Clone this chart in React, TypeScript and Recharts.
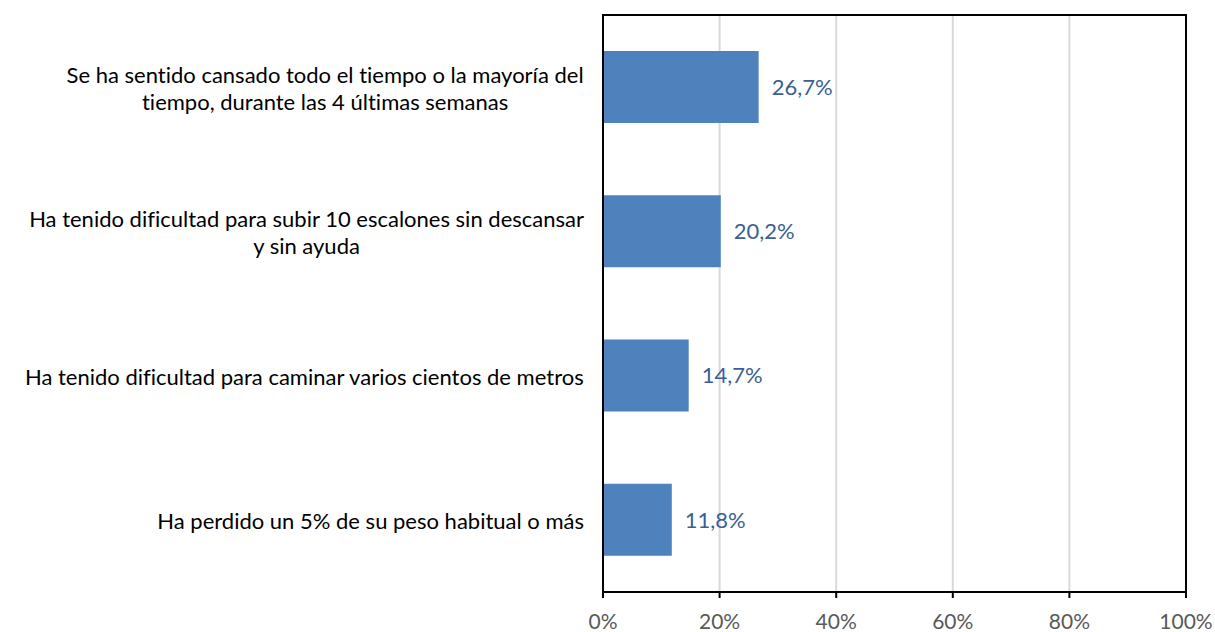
import React from "react";
import {
  Bar,
  BarChart,
  CartesianGrid,
  LabelList,
  ReferenceArea,
  XAxis,
  YAxis,
} from "recharts";

const categories = [
  "Se ha sentido cansado todo el tiempo o la mayoría del\ntiempo, durante las 4 últimas semanas",
  "Ha tenido dificultad para subir 10 escalones sin descansar\ny sin ayuda",
  "Ha tenido dificultad para caminar varios cientos de metros",
  "Ha perdido un 5% de su peso habitual o más",
];
const values = [0.267, 0.202, 0.147, 0.118];
const xTicks = [0, 0.2, 0.4, 0.6, 0.8, 1];

const FONT = "Lato, 'Liberation Sans', sans-serif";
const FONT_SIZE = 22;

const data = categories.map((name, i) => ({ name, value: values[i] }));

let canvasCtx: CanvasRenderingContext2D | null = null;
function measure(text: string) {
  if (!canvasCtx) canvasCtx = document.createElement("canvas").getContext("2d");
  if (!canvasCtx) return text.length * 10;
  canvasCtx.font = `${FONT_SIZE}px ${FONT}`;
  return canvasCtx.measureText(text).width;
}

function CategoryTick(props: any) {
  const { x, y, payload } = props;
  const lines = String(payload.value).split("\n");
  const blockWidth = Math.max(...lines.map(measure));
  const cx = x - blockWidth / 2;
  const lineHeight = 27;
  const startY = y - ((lines.length - 1) * lineHeight) / 2;
  return (
    <text
      x={cx}
      y={startY}
      textAnchor="middle"
      dominantBaseline="central"
      fill="#000"
      fontSize={FONT_SIZE}
      fontFamily={FONT}
    >
      {lines.map((line, i) => (
        <tspan key={i} x={cx} y={startY + i * lineHeight}>
          {line}
        </tspan>
      ))}
    </text>
  );
}

const pct = (v: number) => `${Math.round(v * 100)}%`;
const labelPct = (v: any) => `${(Number(v) * 100).toFixed(1).replace(".", ",")}%`;

export default function App() {
  return (
    <div
      style={{
        position: "absolute",
        left: 0,
        top: 0,
        background: "#fff",
        fontVariantLigatures: "none",
      }}
    >
      <BarChart
        width={1215}
        height={632}
        data={data}
        layout="vertical"
        barCategoryGap="25%"
        margin={{ top: 15, right: 29, bottom: 0, left: 0 }}
      >
        <CartesianGrid
          horizontal={false}
          stroke="#d9d9d9"
          strokeWidth={2}
          verticalValues={[0.2, 0.4, 0.6, 0.8]}
        />
        <XAxis
          type="number"
          domain={[0, 1]}
          ticks={xTicks}
          tickFormatter={pct}
          height={40}
          axisLine={{ stroke: "#000", strokeWidth: 2 }}
          tickLine={{ stroke: "#000", strokeWidth: 2 }}
          tickSize={6}
          tick={{ fill: "#595959", fontSize: 21, fontFamily: FONT, dy: 14 }}
          interval={0}
        />
        <YAxis
          type="category"
          dataKey="name"
          width={603}
          axisLine={{ stroke: "#000", strokeWidth: 2 }}
          tickLine={false}
          tickMargin={13}
          tick={<CategoryTick />}
          interval={0}
        />
        <ReferenceArea x1={0} x2={1} fill="none" stroke="#000" strokeWidth={2} ifOverflow="visible" />
        <Bar dataKey="value" fill="#4f81bd" isAnimationActive={false}>
          <LabelList
            dataKey="value"
            position="right"
            offset={13}
            formatter={labelPct}
            fill="#3a5f94"
            fontSize={FONT_SIZE}
            fontFamily={FONT}
          />
        </Bar>
      </BarChart>
    </div>
  );
}
